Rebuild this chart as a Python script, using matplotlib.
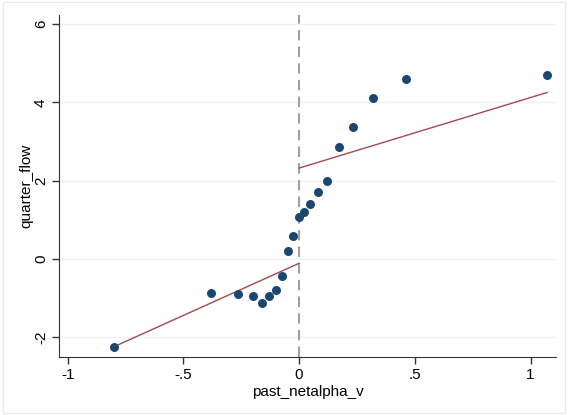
import matplotlib
matplotlib.use('Agg')
from matplotlib import pyplot as plt
from matplotlib.patches import Rectangle

plt.rcParams['font.family'] = ['Liberation Sans', 'DejaVu Sans']

# binned means
bin_x = [-0.80, -0.38, -0.264, -0.199, -0.16, -0.13, -0.10, -0.073, -0.048, -0.026,
         0.0, 0.02, 0.048, 0.082, 0.12, 0.173, 0.233, 0.32, 0.462, 1.071]
bin_y = [-2.26, -0.87, -0.89, -0.94, -1.12, -0.94, -0.79, -0.43, 0.20, 0.59,
         1.06, 1.20, 1.41, 1.71, 1.99, 2.86, 3.37, 4.11, 4.60, 4.70]

# fitted lines left / right of cutoff
fit_left_x = [-0.80, 0.0]
fit_left_y = [-2.24, -0.11]
fit_right_x = [0.0, 1.071]
fit_right_y = [2.32, 4.25]

x_ticks = [-1, -0.5, 0, 0.5, 1]
x_labels = ['-1', '-.5', '0', '.5', '1']
y_ticks = [-2, 0, 2, 4, 6]
y_labels = ['-2', '0', '2', '4', '6']

navy = '#1a476f'
maroon = '#a4484d'

fig = plt.figure(figsize=(5.68, 4.15), dpi=100)
fig.patches.append(Rectangle((0.006, 0.006), 0.988, 0.99, transform=fig.transFigure,
                             fill=False, edgecolor='#e6ecec', linewidth=1))
ax = fig.add_axes([0.104, 0.140, 0.875, 0.824])

for t in y_ticks:
    ax.axhline(t, color='#eaf2f3', linewidth=1, zorder=0)

ax.plot(fit_left_x, fit_left_y, color=maroon, linewidth=1.0, zorder=2)
ax.plot(fit_right_x, fit_right_y, color=maroon, linewidth=1.0, zorder=2)
ax.axvline(0, color='#a0a0a0', linewidth=1.5, linestyle=(0, (5, 3)), zorder=1)
ax.scatter(bin_x, bin_y, s=42, color=navy, zorder=3, linewidths=0)

ax.set_xlim(-1.037, 1.11)
ax.set_ylim(-2.5, 6.23)
ax.set_xticks(x_ticks, x_labels)
ax.set_yticks(y_ticks, y_labels)
for lab in ax.get_yticklabels():
    lab.set_rotation(90)
    lab.set_va('center')

ax.spines['top'].set_visible(False)
ax.spines['right'].set_visible(False)
ax.spines['left'].set_color('#333333')
ax.spines['bottom'].set_color('#333333')
ax.tick_params(direction='out', length=5, width=1, colors='#333333', labelsize=11,
               labelcolor='black', pad=3)

ax.set_xlabel('past_netalpha_v', fontsize=11, labelpad=2)
ax.set_ylabel('quarter_flow', fontsize=11, labelpad=0.5)

fig.savefig('out.png', dpi=100)
